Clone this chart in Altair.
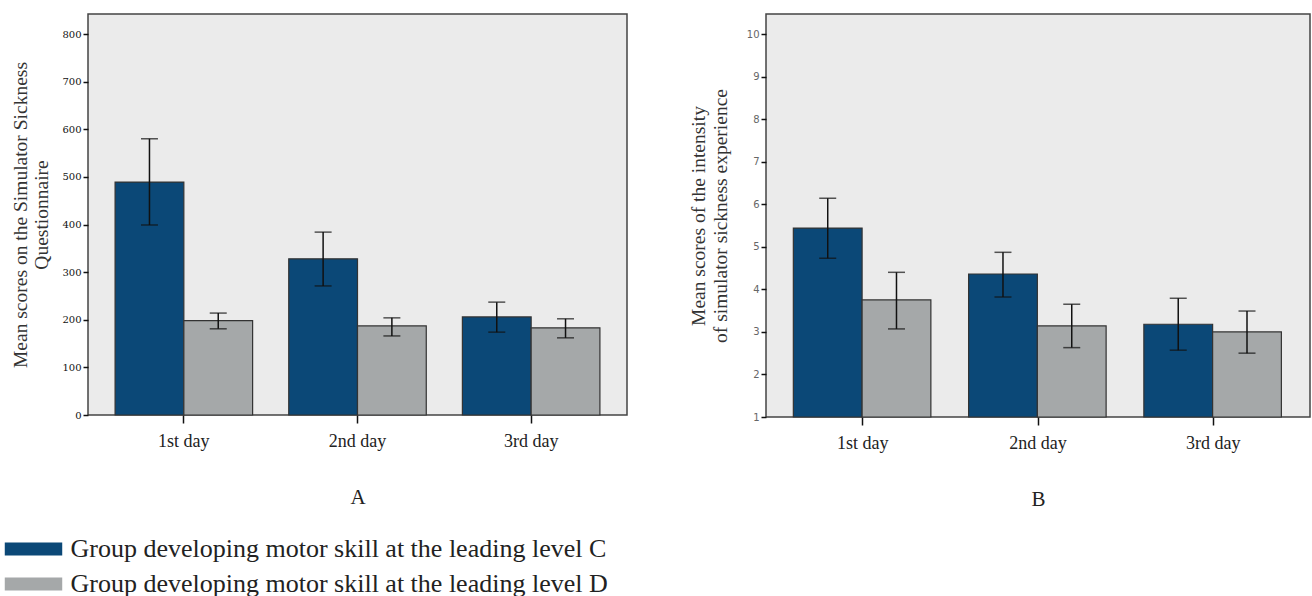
import altair as alt
import pandas as pd

days = ["1st day", "2nd day", "3rd day"]
groups = [
    "Group developing motor skill at the leading level C",
    "Group developing motor skill at the leading level D",
]
colors = ["#0B4877", "#A5A8A9"]

# Panel A: Simulator Sickness Questionnaire
a_mean_c = [489, 328, 206]
a_lo_c = [399, 271, 174]
a_hi_c = [580, 384, 237]
a_mean_d = [198, 187, 183]
a_lo_d = [181, 166, 162]
a_hi_d = [214, 204, 202]

# Panel B: intensity of simulator sickness experience
b_mean_c = [5.44, 4.36, 3.18]
b_lo_c = [4.73, 3.82, 2.57]
b_hi_c = [6.14, 4.87, 3.79]
b_mean_d = [3.75, 3.14, 3.00]
b_lo_d = [3.07, 2.63, 2.50]
b_hi_d = [4.40, 3.65, 3.49]

a_ticks = [0, 100, 200, 300, 400, 500, 600, 700, 800]
b_ticks = [1, 2, 3, 4, 5, 6, 7, 8, 9, 10]


def make_df(mc, lc, hc, md, ld, hd):
    rows = []
    for i, d in enumerate(days):
        rows.append({"day": d, "group": groups[0], "mean": mc[i], "lo": lc[i], "hi": hc[i]})
        rows.append({"day": d, "group": groups[1], "mean": md[i], "lo": ld[i], "hi": hd[i]})
    return pd.DataFrame(rows)


df_a = make_df(a_mean_c, a_lo_c, a_hi_c, a_mean_d, a_lo_d, a_hi_d)
df_b = make_df(b_mean_c, b_lo_c, b_hi_c, b_mean_d, b_lo_d, b_hi_d)

SERIF = "Liberation Serif"


def panel(df, domain, ticks, base_val, ytitle, xtitle, w, h, lab_font, lab_color,
          ytitle_pad, show_legend):
    x = alt.X(
        "day:N",
        sort=days,
        scale=alt.Scale(paddingInner=0.208, paddingOuter=0.156),
        axis=alt.Axis(
            title=xtitle, labelAngle=0, labelFont=SERIF, labelFontSize=18,
            labelColor="#222", tickSize=8, tickColor="#111", tickWidth=1.5,
            domain=False, labelPadding=9, titleFont=SERIF, titleFontSize=21,
            titleFontWeight="normal", titleColor="#222", titlePadding=36,
        ),
    )
    xo = alt.XOffset("group:N", sort=groups, scale=alt.Scale(paddingInner=0, paddingOuter=0))
    yaxis = alt.Axis(
        title=ytitle, values=ticks, grid=False, domain=False, tickSize=5,
        tickColor="#111", tickWidth=1.5, labelFont=lab_font, labelFontSize=10,
        labelColor=lab_color, titleFont=SERIF, titleFontSize=19.5,
        titleFontWeight="normal", titleColor="#333", titlePadding=ytitle_pad,
    )
    yscale = alt.Scale(domain=domain, nice=False, zero=False)
    if show_legend:
        leg = alt.Legend(
            orient="none", legendX=-67.5, legendY=522, title=None,
            symbolType="M-4.42,-1 L4.42,-1 L4.42,1 L-4.42,1 Z", symbolSize=169,
            symbolStrokeWidth=0, labelFont=SERIF, labelFontSize=26,
            labelColor="#222", labelOffset=24, rowPadding=9, padding=0,
            labelLimit=800,
        )
    else:
        leg = None
    color = alt.Color(
        "group:N", sort=groups,
        scale=alt.Scale(domain=groups, range=colors),
        legend=leg,
    )
    base = alt.Chart(df)
    bars = base.mark_bar(stroke="#333", strokeWidth=1.2).encode(
        x=x, xOffset=xo,
        y=alt.Y("mean:Q", scale=yscale, axis=yaxis),
        y2=alt.datum(base_val),
        color=color,
    )
    rules = base.mark_rule(color="#111", strokeWidth=1.5).encode(
        x=x, xOffset=xo,
        y=alt.Y("lo:Q", scale=yscale, axis=yaxis),
        y2="hi:Q",
    )
    cap_lo = base.mark_tick(color="#111", thickness=1.5, size=17).encode(
        x=x, xOffset=xo, y=alt.Y("lo:Q", scale=yscale, axis=yaxis),
    )
    cap_hi = base.mark_tick(color="#111", thickness=1.5, size=17).encode(
        x=x, xOffset=xo, y=alt.Y("hi:Q", scale=yscale, axis=yaxis),
    )
    return alt.layer(bars, rules, cap_lo, cap_hi).properties(width=w, height=h)


chart_a = panel(
    df_a, [0, 842], a_ticks, 0,
    ["Mean scores on the Simulator Sickness", "Questionnaire"], "A",
    539, 401, "DejaVu Serif", "#111", 10, True,
)
chart_b = panel(
    df_b, [1, 10.47], b_ticks, 1,
    ["Mean scores of the intensity", "of simulator sickness experience"], "B",
    544, 403, "DejaVu Sans", "#666", 16, False,
)

chart = (
    alt.hconcat(chart_a, chart_b, spacing=139, bounds="flush")
    .properties(
        padding={"left": 9, "top": 13, "right": 0, "bottom": 0},
        background="white",
    )
    .configure_view(fill="#EBEBEB", stroke="#444", strokeWidth=1.5)
)

chart.save("out.html", embed_options={"renderer": "svg", "actions": False})
